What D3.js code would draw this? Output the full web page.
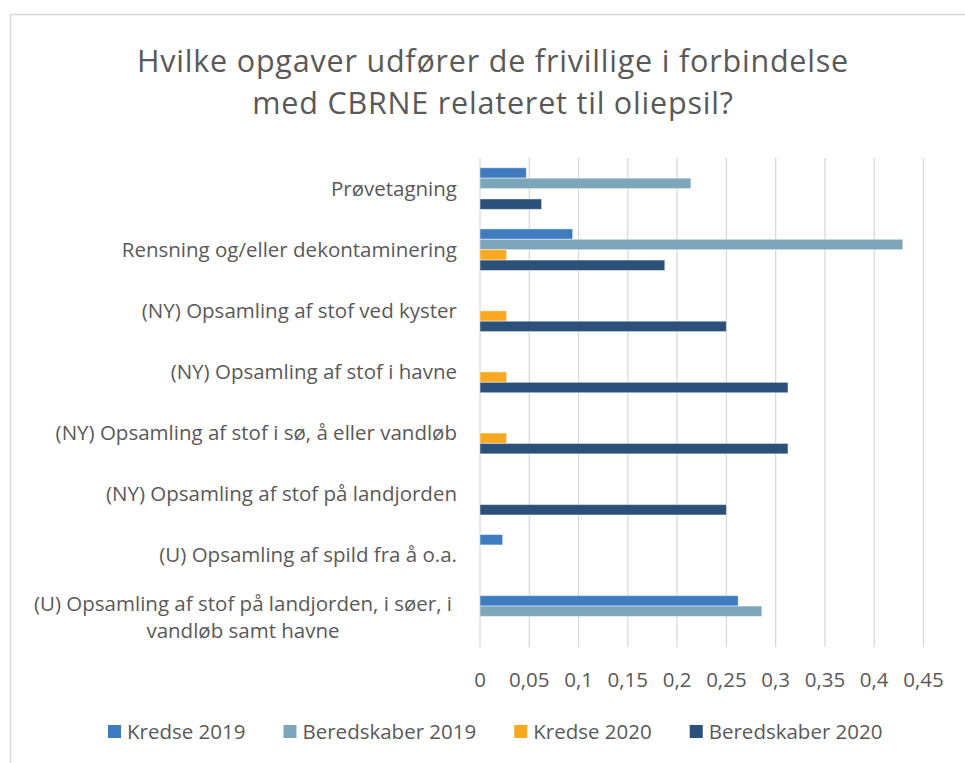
<html>
<head>
<meta charset="utf-8">
<script src="https://d3js.org/d3.v7.min.js"></script>
<style>
  body { margin: 0; background: #fff; }
  text { font-family: "Open Sans", sans-serif; fill: #595959; }
</style>
</head>
<body>
<svg id="chart" width="965" height="763"></svg>
<script>
// categories, top to bottom as shown
var categories = [
  "Prøvetagning",
  "Rensning og/eller dekontaminering",
  "(NY) Opsamling af stof ved kyster",
  "(NY) Opsamling af stof i havne",
  "(NY) Opsamling af stof i sø, å eller vandløb",
  "(NY) Opsamling af stof på landjorden",
  "(U) Opsamling af spild fra å o.a.",
  "(U) Opsamling af stof på landjorden, i søer, i|vandløb samt havne"
];
var seriesNames = ["Kredse 2019", "Beredskaber 2019", "Kredse 2020", "Beredskaber 2020"];
var seriesColors = ["#3e7cbf", "#7ea6ba", "#f8a91f", "#2b5079"];

var kredse2019      = [0.047, 0.094, 0, 0, 0, 0, 0.023, 0.262];
var beredskaber2019 = [0.214, 0.429, 0, 0, 0, 0, 0, 0.286];
var kredse2020      = [0, 0.027, 0.027, 0.027, 0.027, 0, 0, 0];
var beredskaber2020 = [0.0625, 0.1875, 0.25, 0.3125, 0.3125, 0.25, 0, 0];

var xTicks = [0, 0.05, 0.1, 0.15, 0.2, 0.25, 0.3, 0.35, 0.4, 0.45];
var tickLabels = ["0", "0,05", "0,1", "0,15", "0,2", "0,25", "0,3", "0,35", "0,4", "0,45"];
var titleLines = ["Hvilke opgaver udfører de frivillige i forbindelse", "med CBRNE relateret til oliepsil?"];

var allSeries = [kredse2019, beredskaber2019, kredse2020, beredskaber2020];

var svg = d3.select("#chart");

// chart border (only top and left edges fall inside the picture)
svg.append("rect")
  .attr("x", 10.5).attr("y", 14.5)
  .attr("width", 1000).attr("height", 800)
  .attr("fill", "none").attr("stroke", "#d9d9d9").attr("stroke-width", 1.5);

// title
svg.append("g").selectAll("text")
  .data(titleLines)
  .enter().append("text")
  .attr("x", 493)
  .attr("y", function(d, i) { return 72 + i * 41.5; })
  .attr("text-anchor", "middle")
  .style("font-size", "30.5px")
  .style("letter-spacing", "0.8px")
  .text(function(d) { return d; });

var x = d3.scaleLinear().domain([0, 0.45]).range([480, 923.5]);
var y = d3.scaleBand().domain(d3.range(categories.length)).range([158, 647])
  .paddingInner(0.32).paddingOuter(0.16);
var ySub = d3.scaleBand().domain(d3.range(seriesNames.length)).range([0, y.bandwidth()]);

// gridlines
svg.append("g").selectAll("line")
  .data(xTicks)
  .enter().append("line")
  .attr("x1", function(d) { return x(d); })
  .attr("x2", function(d) { return x(d); })
  .attr("y1", 158).attr("y2", 647)
  .attr("stroke", "#d9d9d9").attr("stroke-width", 1.3);

// tick labels
svg.append("g").selectAll("text")
  .data(xTicks)
  .enter().append("text")
  .attr("x", function(d) { return x(d); })
  .attr("y", 687)
  .attr("text-anchor", "middle")
  .style("font-size", "20.5px")
  .text(function(d, i) { return tickLabels[i]; });

// bars
var groups = svg.append("g").selectAll("g")
  .data(categories)
  .enter().append("g")
  .attr("transform", function(d, i) { return "translate(0," + y(i) + ")"; });

groups.selectAll("rect")
  .data(function(d, i) {
    return allSeries.map(function(s, j) { return {s: j, v: s[i]}; })
      .filter(function(e) { return e.v > 0; });
  })
  .enter().append("rect")
  .attr("x", x(0))
  .attr("y", function(d) { return ySub(d.s); })
  .attr("width", function(d) { return x(d.v) - x(0); })
  .attr("height", ySub.bandwidth())
  .attr("fill", function(d) { return seriesColors[d.s]; })
  .attr("stroke", "#fff").attr("stroke-opacity", 0.45).attr("stroke-width", 1);

// category labels
svg.append("g").selectAll("text")
  .data(categories)
  .enter().append("text")
  .attr("y", function(d, i) { return y(i) + y.bandwidth() / 2; })
  .style("font-size", "20.5px")
  .each(function(d) {
    var lines = d.split("|");
    var t = d3.select(this);
    if (lines.length === 1) {
      t.attr("x", 457).attr("text-anchor", "end").attr("dy", "0.35em").text(d);
    } else {
      t.attr("text-anchor", "middle");
      lines.forEach(function(l, k) {
        t.append("tspan").attr("x", 243)
          .attr("dy", k === 0 ? "-0.25em" : "1.3em")
          .text(l);
      });
    }
  });

// legend
var legend = svg.append("g");
var lx = 108;
seriesNames.forEach(function(name, i) {
  legend.append("rect")
    .attr("x", lx).attr("y", 725)
    .attr("width", 13).attr("height", 13)
    .attr("fill", seriesColors[i]);
  var t = legend.append("text")
    .attr("x", lx + 19).attr("y", 738.5)
    .style("font-size", "20.5px")
    .text(name);
  lx += 19 + t.node().getComputedTextLength() + 38;
});
</script>
</body>
</html>
